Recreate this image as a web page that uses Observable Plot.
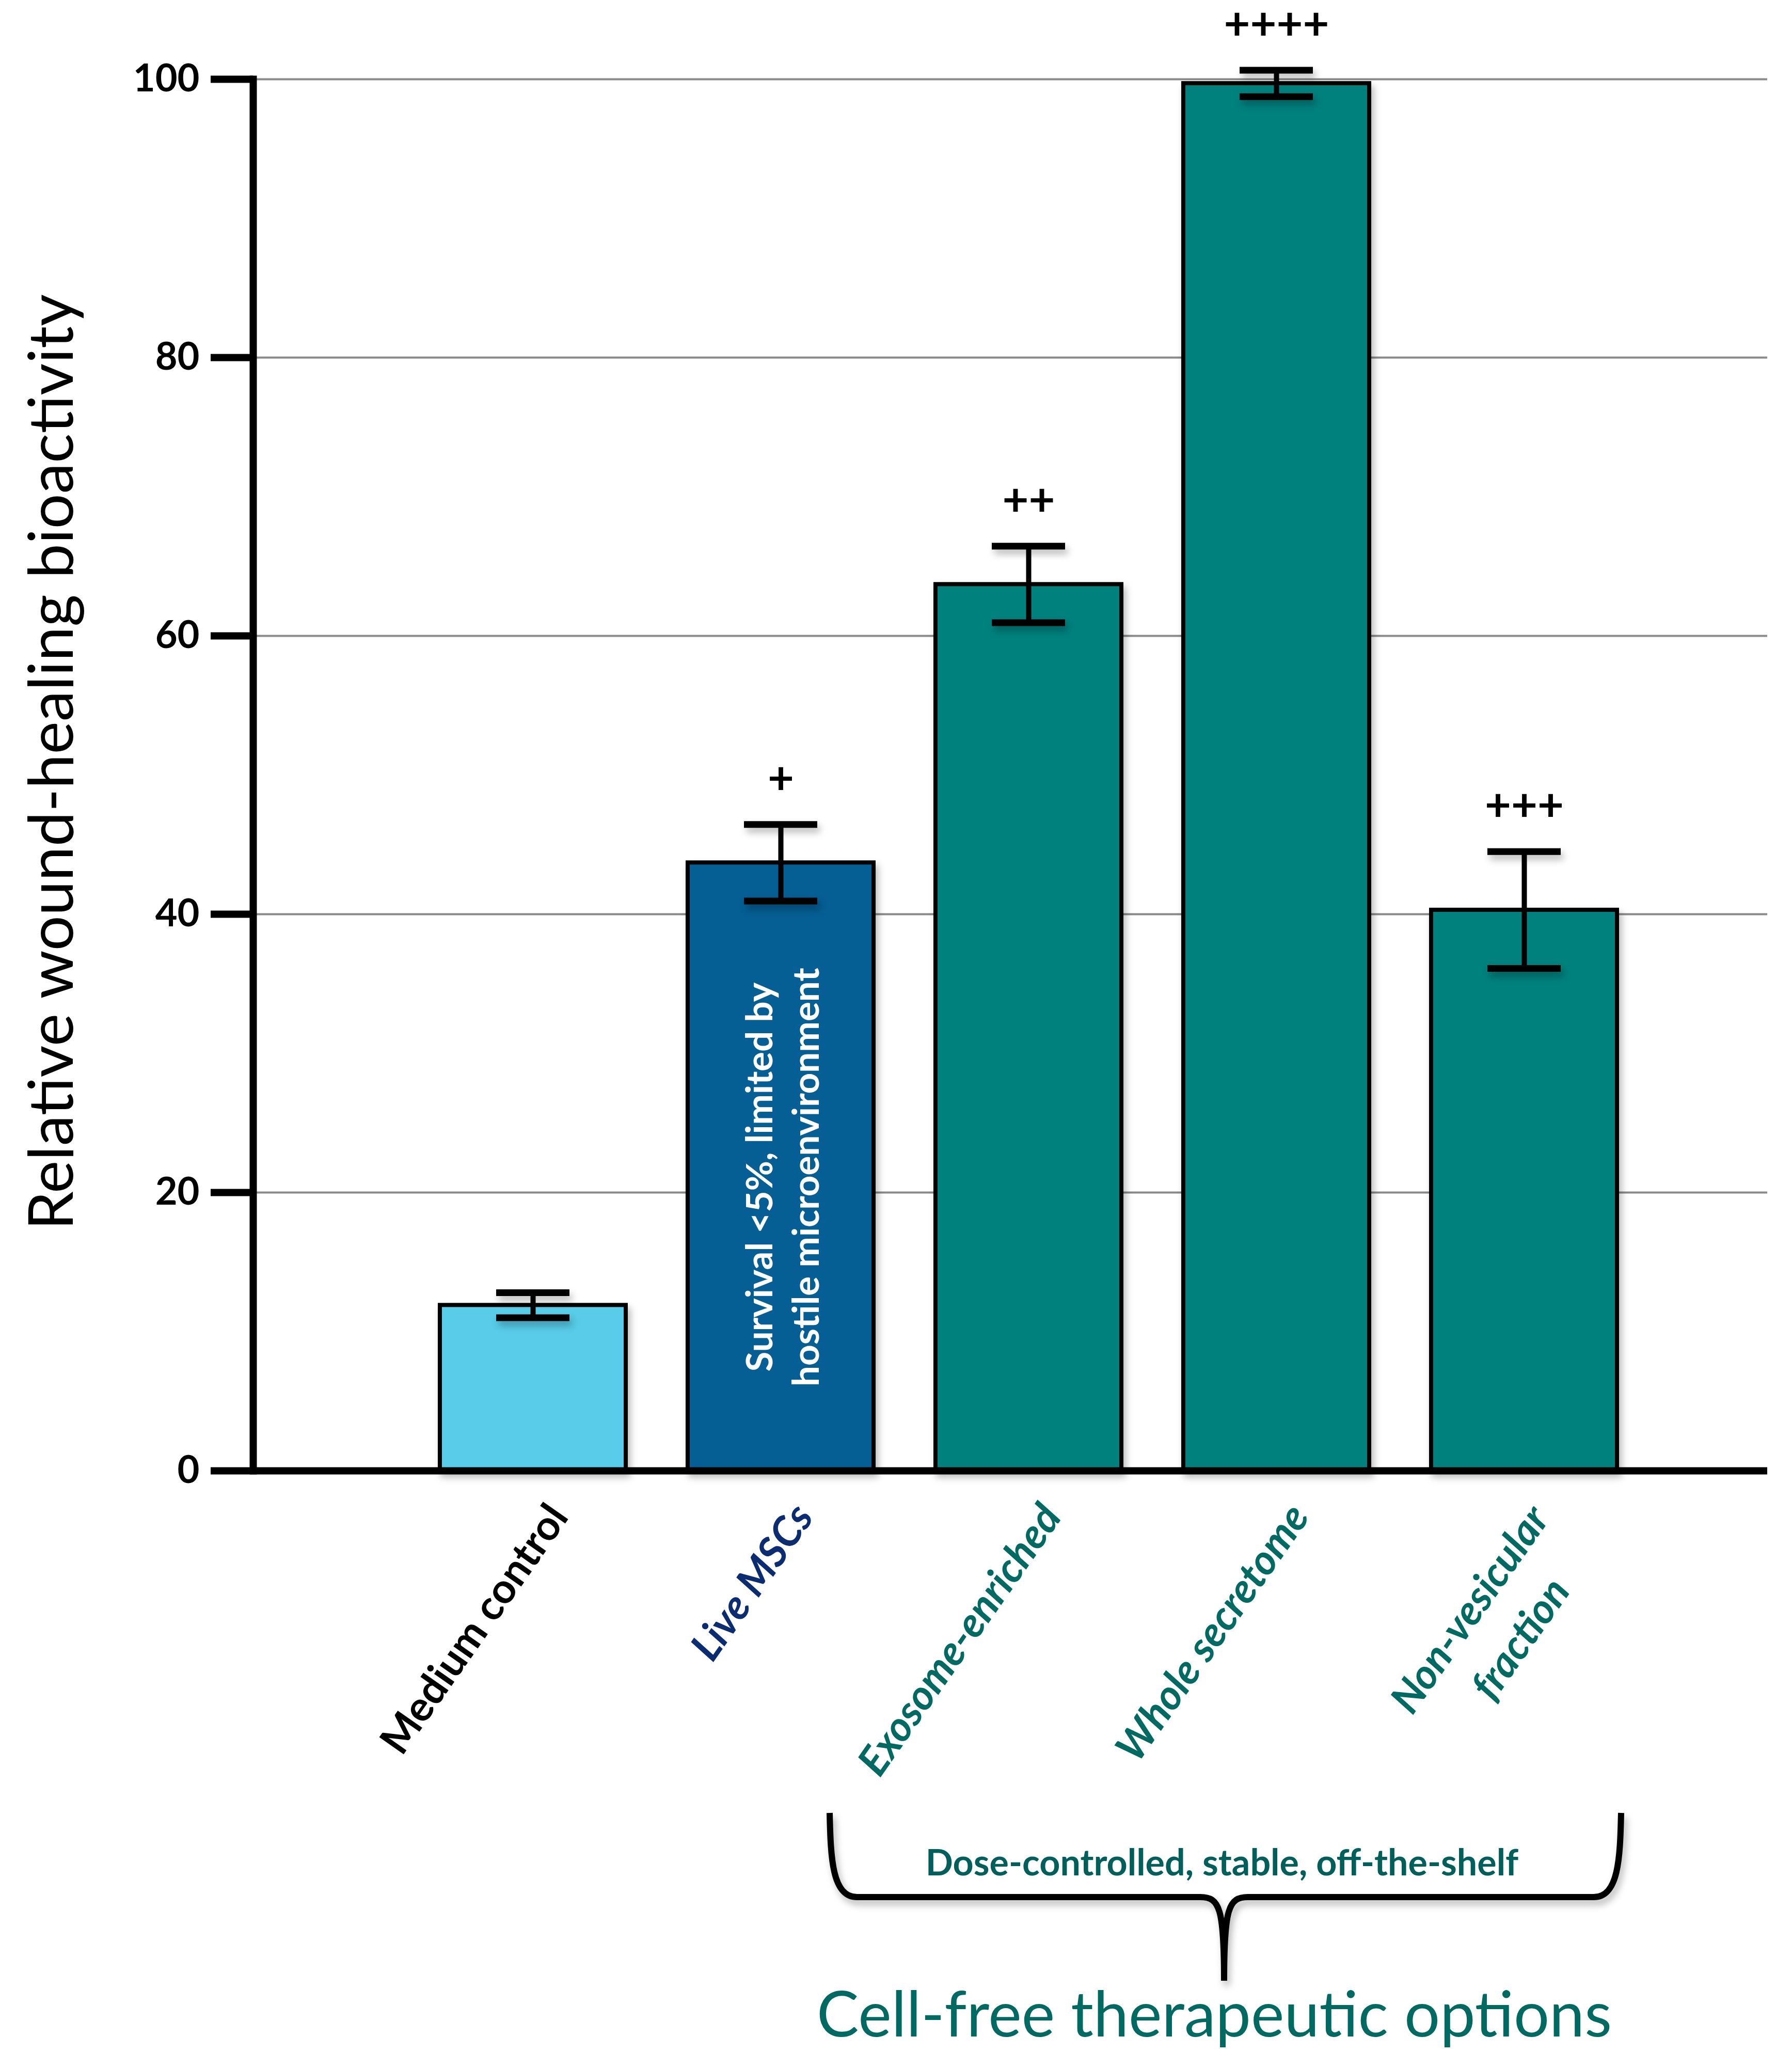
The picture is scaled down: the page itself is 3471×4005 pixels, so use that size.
<!DOCTYPE html>
<html><head><meta charset="utf-8">
<script src="https://cdn.jsdelivr.net/npm/d3@7"></script>
<script src="https://cdn.jsdelivr.net/npm/@observablehq/plot@0.6"></script>
<style>
html,body{margin:0;padding:0;background:#fff;overflow:hidden;}
#chart svg{display:block}
#chart g[aria-label="bar"], #chart g[aria-label="tick"]{filter:drop-shadow(5px 9px 7px rgba(0,0,0,0.28));}
#below{display:block}
</style></head><body>
<div id="chart"></div>
<svg id="below" width="3471" height="525" viewBox="0 0 3471 525"></svg>
<script>
// ---- data ----
const categories = ["Medium control", "Live MSCs", "Exosome-enriched", "Whole secretome", "Non-vesicular fraction"];
const labelLine1 = ["Medium control", "Live MSCs", "Exosome-enriched", "Whole secretome", "Non-vesicular"];
const labelLine2 = ["", "", "", "", "fraction"];
const values = [11.9, 43.7, 63.7, 99.7, 40.3];
const errors = [0.9, 2.75, 2.75, 0.95, 4.2];
const significance = ["", "+", "++", "++++", "+++"];
const barColors = ["#58CCE8", "#055E94", "#00817E", "#00817E", "#00817E"];
const labelColors = ["#000000", "#0B2C70", "#006A62", "#006A62", "#006A62"];
const labelItalic = [false, true, true, true, true];
const yTicks = [0, 20, 40, 60, 80, 100];
const yLabel = "Relative wound-healing bioactivity";
const insideNote = "Survival <5%, limited by\nhostile microenvironment";
const braceNote = "Dose-controlled, stable, off-the-shelf";
const groupTitle = "Cell-free therapeutic options";

const rows = categories.map((c, i) => ({
  cat: c, value: values[i], err: errors[i], sig: significance[i],
  barColor: barColors[i], labelColor: labelColors[i],
  line1: labelLine1[i], line2: labelLine2[i], italic: labelItalic[i]
}));

const W = 3471, H = 3480;
const font = "Lato, 'Open Sans', sans-serif";
const lab = {x: "cat", y: () => 0, rotate: -55, textAnchor: "end", fill: "labelColor", fontSize: 80, fontWeight: "bold", text: "line1"};

const chart = Plot.plot({
  width: W, height: H,
  marginTop: 153, marginBottom: H - 2848, marginLeft: 490, marginRight: 48,
  style: {fontFamily: font, background: "white", overflow: "visible", color: "black"},
  x: {type: "band", domain: categories, paddingInner: 0.25, paddingOuter: 0.125, insetLeft: 301, insetRight: 231, axis: null},
  y: {domain: [0, 100], axis: null},
  color: {type: "identity"},
  marks: [
    Plot.ruleY(yTicks.filter(d => d > 0), {stroke: "#8a8a8a", strokeWidth: 4}),
    Plot.barY(rows, {x: "cat", y: "value", fill: "barColor", stroke: "#000", strokeWidth: 8}),
    Plot.ruleX(rows, {x: "cat", y1: d => d.value - d.err, y2: d => d.value + d.err, stroke: "#000", strokeWidth: 10}),
    Plot.tickY(rows, {x: "cat", y: d => d.value + d.err, stroke: "#000", strokeWidth: 13, insetLeft: 109, insetRight: 109}),
    Plot.tickY(rows, {x: "cat", y: d => d.value - d.err, stroke: "#000", strokeWidth: 13, insetLeft: 109, insetRight: 109}),
    Plot.text(rows, {x: "cat", y: d => d.value + d.err, text: "sig", dy: -88, fontSize: 88, fontWeight: "bold", lineAnchor: "middle", fill: "#000"}),
    Plot.text(rows.filter(d => d.cat === "Live MSCs"), {x: "cat", y: d => d.value / 2, text: () => insideNote, rotate: -90, fill: "white", fontSize: 71, fontWeight: "bold", lineHeight: 1.27, lineAnchor: "middle", dy: 20}),
    Plot.ruleY([0], {stroke: "#000", strokeWidth: 14}),
    Plot.axisY({ticks: yTicks, tickSize: 82, tickPadding: 22, strokeWidth: 14, fontSize: 74, fontWeight: "bold", label: null, fill: "#000"}),
    Plot.frame({anchor: "left", stroke: "#000", strokeWidth: 14}),
    Plot.text([yLabel], {frameAnchor: "left", text: d => d, rotate: -90, textAnchor: "middle", dx: -388, dy: -25, fontSize: 120, fill: "#000", lineAnchor: "middle"}),
    // x labels
    Plot.text(rows.filter(d => !d.line2 && !d.italic), {...lab, dx: 50, dy: 75}),
    Plot.text(rows.filter(d => !d.line2 && d.italic), {...lab, fontStyle: "italic", dx: 45, dy: 75}),
    Plot.text(rows.filter(d => d.line2), {...lab, fontStyle: "italic", dx: 30, dy: 78}),
    Plot.text(rows.filter(d => d.line2), {...lab, text: "line2", fontStyle: "italic", dx: 70, dy: 218})
  ]
});
document.getElementById("chart").appendChild(chart);

// ---- brace and group caption below the chart ----
const below = d3.select("#below");
const brace = d3.path();
brace.moveTo(1607, 31);
brace.bezierCurveTo(1609, 120, 1612, 194, 1660, 194);
brace.lineTo(2325, 194);
brace.bezierCurveTo(2362, 194, 2371, 215, 2371, 356);
brace.moveTo(3140, 31);
brace.bezierCurveTo(3138, 120, 3135, 194, 3087, 194);
brace.lineTo(2417, 194);
brace.bezierCurveTo(2380, 194, 2371, 215, 2371, 356);
below.append("path").attr("d", brace.toString())
  .attr("fill", "none").attr("stroke", "#000").attr("stroke-width", 12)
  .attr("stroke-linejoin", "round")
  .style("filter", "drop-shadow(5px 9px 7px rgba(0,0,0,0.28))");
below.append("text").attr("x", 2367).attr("y", 127).attr("dy", "0.35em")
  .attr("text-anchor", "middle").attr("font-family", font).attr("font-weight", "bold")
  .attr("font-size", 70).attr("fill", "#005F5A").text(braceNote);
below.append("text").attr("x", 2352).attr("y", 464)
  .attr("text-anchor", "middle").attr("font-family", font)
  .attr("font-size", 122).attr("fill", "#006A62").text(groupTitle);
</script>
</body></html>
